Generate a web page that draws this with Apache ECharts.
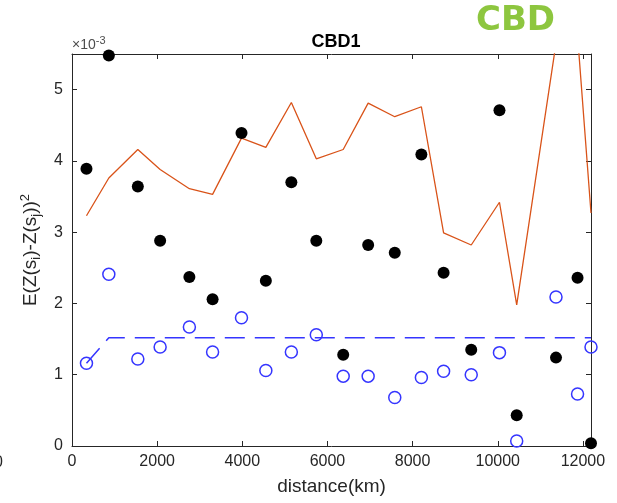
<!DOCTYPE html>
<html>
<head>
<meta charset="utf-8">
<script src="https://cdn.jsdelivr.net/npm/echarts@6/dist/echarts.min.js"></script>
<style>
html, body { margin: 0; padding: 0; background: #fff; }
#chartmain { width: 617px; height: 503px; }
</style>
</head>
<body>
<div id="chartmain"></div>
<script>
// distances (km) of the lag bins
var distance = [340, 865, 1546, 2070, 2757, 3302, 3981, 4553, 5152, 5738, 6370,
    6956, 7581, 8206, 8728, 9377, 10040, 10445, 11368, 11874, 12190];
// semivariance, units of 1e-3
var blackDots = [3.89, 5.48, 3.64, 2.88, 2.37, 2.06, 4.39, 2.32, 3.70, 2.88, 1.28,
    2.82, 2.71, 4.09, 2.43, 1.35, 4.71, 0.43, 1.24, 2.36, 0.04];
var blueCircles = [1.16, 2.41, 1.22, 1.39, 1.67, 1.32, 1.80, 1.06, 1.32, 1.56, 0.98,
    0.98, 0.68, 0.96, 1.05, 1.00, 1.31, 0.07, 2.09, 0.73, 1.39];
var modelLine = [1.16, 1.52, 1.52, 1.52, 1.52, 1.52, 1.52, 1.52, 1.52, 1.52, 1.52,
    1.52, 1.52, 1.52, 1.52, 1.52, 1.52, 1.52, 1.52, 1.52, 1.52];
var orangeLine = [3.23, 3.76, 4.16, 3.88, 3.61, 3.53, 4.32, 4.19, 4.82, 4.03, 4.16,
    4.81, 4.62, 4.76, 2.99, 2.82, 3.42, 1.98, 5.65, 5.76, 3.27];
var xTicks = [0, 2000, 4000, 6000, 8000, 10000, 12000];
var yTicks = [0, 1, 2, 3, 4, 5];

function pairs(xs, ys) {
    var out = [];
    for (var i = 0; i < xs.length; i++) {
        out.push([xs[i], ys[i]]);
    }
    return out;
}

var FONT = 'Liberation Sans';
var AXIS_COLOR = '#262626';

function axisBase(show) {
    return {
        axisLine: { show: true, onZero: false, lineStyle: { color: AXIS_COLOR, width: 1 } },
        axisTick: { show: true, inside: true, length: 5, lineStyle: { color: AXIS_COLOR } },
        splitLine: { show: false },
        axisLabel: { show: show }
    };
}

var xMain = axisBase(true);
xMain.type = 'value';
xMain.position = 'bottom';
xMain.min = 0;
xMain.max = 12190;
xMain.interval = 2000;
xMain.name = 'distance(km)';
xMain.nameLocation = 'middle';
xMain.nameGap = 31;
xMain.nameTextStyle = { fontFamily: FONT, fontSize: 19, color: AXIS_COLOR };
xMain.axisLabel = {
    show: true, margin: 8, fontFamily: FONT, fontSize: 16, color: AXIS_COLOR,
    formatter: function (v) { return xTicks.indexOf(v) >= 0 ? String(v) : ''; }
};

var xTop = axisBase(false);
xTop.type = 'value';
xTop.position = 'top';
xTop.min = 0;
xTop.max = 12190;
xTop.interval = 2000;

var yMain = axisBase(true);
yMain.type = 'value';
yMain.position = 'left';
yMain.min = 0;
yMain.max = 5.5;
yMain.interval = 1;
yMain.name = '{a|E(Z(s}{sub|i}{a|)-Z(s}{sub|j}{a|))}{sup|2}';
yMain.nameLocation = 'middle';
yMain.nameRotate = 90;
yMain.nameGap = 27;
yMain.nameTextStyle = {
    fontFamily: FONT, color: AXIS_COLOR,
    rich: {
        a: { fontFamily: FONT, fontSize: 19, color: AXIS_COLOR, lineHeight: 24 },
        sub: { fontFamily: FONT, fontSize: 13, color: AXIS_COLOR, verticalAlign: 'bottom', lineHeight: 16 },
        sup: { fontFamily: FONT, fontSize: 13, color: AXIS_COLOR, verticalAlign: 'top', lineHeight: 14 }
    }
};
yMain.axisLabel = {
    show: true, margin: 9, fontFamily: FONT, fontSize: 16, color: AXIS_COLOR,
    formatter: function (v) { return yTicks.indexOf(v) >= 0 ? String(v) : ''; }
};

var yRight = axisBase(false);
yRight.type = 'value';
yRight.position = 'right';
yRight.min = 0;
yRight.max = 5.5;
yRight.interval = 1;

var option = {
    backgroundColor: '#ffffff',
    animation: false,
    title: {
        text: 'CBD1',
        left: 331,
        top: 28,
        textAlign: 'center',
        textStyle: { fontFamily: FONT, fontSize: 18, fontWeight: 'bold', color: '#000' }
    },
    grid: { left: 72, right: 26, top: 54, bottom: 57, containLabel: false },
    xAxis: [xMain, xTop],
    yAxis: [yMain, yRight],
    graphic: [
        {
            type: 'text', left: 476, top: 4,
            style: { text: 'CBD', fontFamily: 'DejaVu Sans', fontSize: 34, fontWeight: 'bold', fill: '#8dc63f' }
        },
        {
            type: 'text', left: 72, top: 35,
            style: {
                text: '{a|\u00d710}{b|-3}',
                rich: {
                    a: { fontFamily: FONT, fontSize: 14, fill: '#4d4d4d', verticalAlign: 'bottom', lineHeight: 17 },
                    b: { fontFamily: FONT, fontSize: 11, fill: '#4d4d4d', verticalAlign: 'top', lineHeight: 12 }
                }
            }
        },
        {
            type: 'text', left: -6, top: 455,
            style: { text: '0', fontFamily: FONT, fontSize: 16, fill: AXIS_COLOR }
        }
    ],
    series: [
        {
            name: 'fit',
            type: 'line',
            data: pairs(distance, orangeLine),
            symbol: 'none',
            clip: true,
            lineStyle: { color: '#d95319', width: 1.3 },
            z: 3
        },
        {
            name: 'model',
            type: 'line',
            data: pairs(distance, modelLine),
            symbol: 'none',
            clip: true,
            lineStyle: { color: '#3535ff', width: 1.5, type: [20, 10] },
            z: 3
        },
        {
            name: 'black',
            type: 'scatter',
            data: pairs(distance, blackDots),
            symbol: 'circle',
            symbolSize: 12,
            clip: false,
            itemStyle: { color: '#000000', opacity: 1 },
            z: 4
        },
        {
            name: 'blue',
            type: 'scatter',
            data: pairs(distance, blueCircles),
            symbol: 'circle',
            symbolSize: 12,
            clip: false,
            itemStyle: { color: 'rgba(0,0,0,0)', borderColor: '#3535ff', borderWidth: 1.5, opacity: 1 },
            z: 4
        }
    ]
};

var myChart = echarts.init(document.getElementById('chartmain'));
myChart.setOption(option);
</script>
</body>
</html>
